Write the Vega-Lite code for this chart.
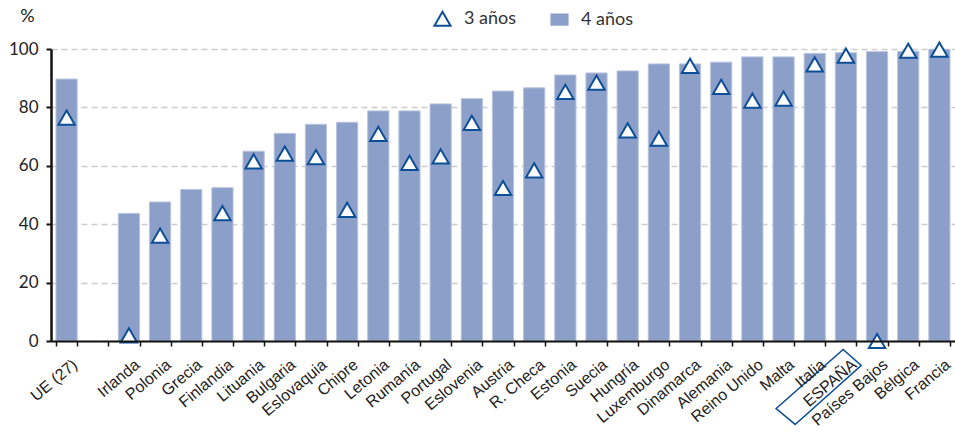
{
  "$schema": "https://vega.github.io/schema/vega-lite/v6.json",
  "width": 904,
  "height": 292,
  "autosize": "none",
  "padding": {"left": 51, "top": 49, "right": 0, "bottom": 95},
  "background": "white",
  "config": {"view": {"stroke": null}, "font": "Lato"},
  "data": {
    "values": [
      {"pais": "UE (27)", "serie": "4 años", "valor": 89.7},
      {"pais": "UE (27)", "serie": "3 años", "valor": 76.5},
      {"pais": "Irlanda", "serie": "4 años", "valor": 43.7},
      {"pais": "Irlanda", "serie": "3 años", "valor": 1.9},
      {"pais": "Polonia", "serie": "4 años", "valor": 47.6},
      {"pais": "Polonia", "serie": "3 años", "valor": 36.1},
      {"pais": "Grecia", "serie": "4 años", "valor": 51.9},
      {"pais": "Finlandia", "serie": "4 años", "valor": 52.5},
      {"pais": "Finlandia", "serie": "3 años", "valor": 43.8},
      {"pais": "Lituania", "serie": "4 años", "valor": 65},
      {"pais": "Lituania", "serie": "3 años", "valor": 61.5},
      {"pais": "Bulgaria", "serie": "4 años", "valor": 71.1},
      {"pais": "Bulgaria", "serie": "3 años", "valor": 64.2},
      {"pais": "Eslovaquia", "serie": "4 años", "valor": 74.2},
      {"pais": "Eslovaquia", "serie": "3 años", "valor": 63},
      {"pais": "Chipre", "serie": "4 años", "valor": 74.9},
      {"pais": "Chipre", "serie": "3 años", "valor": 44.9},
      {"pais": "Letonia", "serie": "4 años", "valor": 78.8},
      {"pais": "Letonia", "serie": "3 años", "valor": 70.9},
      {"pais": "Rumanía", "serie": "4 años", "valor": 78.8},
      {"pais": "Rumanía", "serie": "3 años", "valor": 61},
      {"pais": "Portugal", "serie": "4 años", "valor": 81.2},
      {"pais": "Portugal", "serie": "3 años", "valor": 63.2},
      {"pais": "Eslovenia", "serie": "4 años", "valor": 83},
      {"pais": "Eslovenia", "serie": "3 años", "valor": 74.7},
      {"pais": "Austria", "serie": "4 años", "valor": 85.6},
      {"pais": "Austria", "serie": "3 años", "valor": 52.4},
      {"pais": "R. Checa", "serie": "4 años", "valor": 86.7},
      {"pais": "R. Checa", "serie": "3 años", "valor": 58.4},
      {"pais": "Estonia", "serie": "4 años", "valor": 91.1},
      {"pais": "Estonia", "serie": "3 años", "valor": 85.3},
      {"pais": "Suecia", "serie": "4 años", "valor": 91.8},
      {"pais": "Suecia", "serie": "3 años", "valor": 88.5},
      {"pais": "Hungría", "serie": "4 años", "valor": 92.5},
      {"pais": "Hungría", "serie": "3 años", "valor": 72.1},
      {"pais": "Luxemburgo", "serie": "4 años", "valor": 94.9},
      {"pais": "Luxemburgo", "serie": "3 años", "valor": 69.3},
      {"pais": "Dinamarca", "serie": "4 años", "valor": 94.9},
      {"pais": "Dinamarca", "serie": "3 años", "valor": 94.2},
      {"pais": "Alemania", "serie": "4 años", "valor": 95.5},
      {"pais": "Alemania", "serie": "3 años", "valor": 87},
      {"pais": "Reino Unido", "serie": "4 años", "valor": 97.3},
      {"pais": "Reino Unido", "serie": "3 años", "valor": 82.3},
      {"pais": "Malta", "serie": "4 años", "valor": 97.3},
      {"pais": "Malta", "serie": "3 años", "valor": 83},
      {"pais": "Italia", "serie": "4 años", "valor": 98.5},
      {"pais": "Italia", "serie": "3 años", "valor": 94.7},
      {"pais": "ESPAÑA", "serie": "4 años", "valor": 98.7},
      {"pais": "ESPAÑA", "serie": "3 años", "valor": 97.7},
      {"pais": "Países Bajos", "serie": "4 años", "valor": 99.1},
      {"pais": "Países Bajos", "serie": "3 años", "valor": 0},
      {"pais": "Bélgica", "serie": "4 años", "valor": 99.2},
      {"pais": "Bélgica", "serie": "3 años", "valor": 99.4},
      {"pais": "Francia", "serie": "4 años", "valor": 99.9},
      {"pais": "Francia", "serie": "3 años", "valor": 99.8},
      {"pais": "ESPAÑA", "serie": "marco", "valor": 0}
    ]
  },
  "encoding": {
    "x": {
      "field": "pais",
      "type": "nominal",
      "scale": {
        "domain": ["UE (27)", " ", "Irlanda", "Polonia", "Grecia", "Finlandia", "Lituania", "Bulgaria", "Eslovaquia", "Chipre", "Letonia", "Rumanía", "Portugal", "Eslovenia", "Austria", "R. Checa", "Estonia", "Suecia", "Hungría", "Luxemburgo", "Dinamarca", "Alemania", "Reino Unido", "Malta", "Italia", "ESPAÑA", "Países Bajos", "Bélgica", "Francia"],
        "paddingInner": 0.32,
        "paddingOuter": 0.16
      },
      "axis": {
        "title": null,
        "labelAngle": -40,
        "labelAlign": "right",
        "labelBaseline": "top",
        "labelFont": "Liberation Sans",
        "labelFontSize": 16,
        "labelColor": "#222222",
        "labelOffset": 3,
        "tickBand": "extent",
        "tickSize": 5,
        "tickWidth": 1.5,
        "tickColor": "#111111",
        "domainColor": "#111111",
        "domainWidth": 2,
        "labelPadding": 10,
        "zindex": 1
      }
    },
    "y": {
      "field": "valor",
      "type": "quantitative",
      "scale": {"domain": [0, 100], "nice": false},
      "axis": {
        "title": "%",
        "titleAngle": 0,
        "titleX": -24,
        "titleY": -33,
        "titleAlign": "center",
        "titleBaseline": "middle",
        "titleFontSize": 18,
        "titleFontWeight": "normal",
        "titleColor": "#222222",
        "values": [0, 20, 40, 60, 80, 100],
        "grid": true,
        "gridDash": [6, 4],
        "gridColor": "#cccccc",
        "gridWidth": 1.5,
        "domainColor": "#111111",
        "domainWidth": 2.5,
        "tickSize": 5,
        "tickWidth": 2,
        "tickColor": "#111111",
        "labelFontSize": 17,
        "labelPadding": 8,
        "labelColor": "#222222",
        "zindex": 0
      }
    }
  },
  "layer": [
    {
      "transform": [{"filter": "datum.serie == '4 años'"}],
      "mark": {"type": "bar", "stroke": "#b8c4df", "strokeWidth": 1},
      "encoding": {
        "fill": {
          "field": "serie",
          "type": "nominal",
          "scale": {"domain": ["3 años", "4 años"], "range": ["white", "#8b9fc8"]},
          "legend": {
            "title": null,
            "orient": "none",
            "legendX": 382,
            "legendY": -40,
            "direction": "horizontal",
            "labelFontSize": 18,
            "labelColor": "#333333",
            "symbolSize": 260,
            "symbolStrokeWidth": 2,
            "columnPadding": 30,
            "labelOffset": 12
          }
        }
      }
    },
    {
      "transform": [{"filter": "datum.serie == '3 años'"}],
      "mark": {"type": "point", "filled": true, "opacity": 1, "strokeWidth": 2, "size": 270},
      "encoding": {
        "fill": {
          "field": "serie",
          "type": "nominal",
          "scale": {"domain": ["3 años", "4 años"], "range": ["white", "#8b9fc8"]}
        },
        "stroke": {
          "field": "serie",
          "type": "nominal",
          "scale": {"domain": ["3 años", "4 años"], "range": ["#0d4f96", "#8b9fc8"]}
        },
        "shape": {
          "field": "serie",
          "type": "nominal",
          "scale": {"domain": ["3 años", "4 años"], "range": ["triangle-up", "M-1,-0.65L1,-0.65L1,0.65L-1,0.65Z"]}
        }
      }
    },
    {
      "transform": [{"filter": "datum.serie == 'marco'"}],
      "mark": {
        "type": "point",
        "shape": "M-0.95,0.478L0.539,-0.833L0.939,-0.478L-0.528,0.833Z",
        "filled": false,
        "opacity": 1,
        "stroke": "#0d4f96",
        "strokeWidth": 1.6,
        "size": 8100,
        "xOffset": -27,
        "yOffset": 46,
        "clip": false
      }
    }
  ]
}
